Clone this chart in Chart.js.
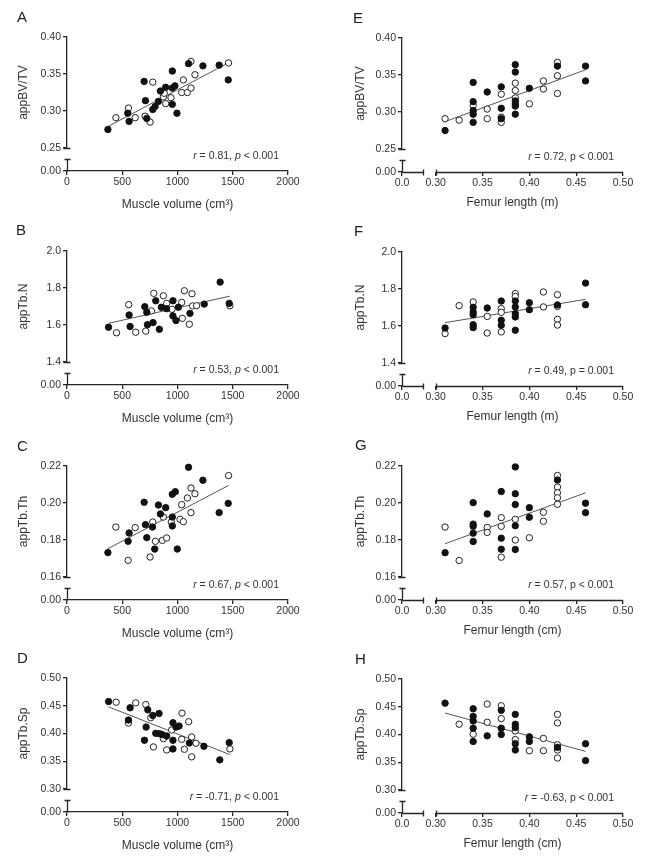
<!DOCTYPE html>
<html>
<head>
<meta charset="utf-8">
<script src="https://cdn.jsdelivr.net/npm/chart.js@4.4.1/dist/chart.umd.min.js"></script>
<style>
  html, body { margin: 0; padding: 0; background: #fff; }
  #page { position: relative; width: 645px; height: 863px; overflow: hidden; }
  canvas { position: absolute; }
  .letter { position: absolute; font: 15px/15px "Liberation Sans", Arial, sans-serif; color: #222; }
</style>
</head>
<body>
<div id="page">
  <canvas id="chartA" width="320" height="213" style="left:0;top:0"></canvas>
  <canvas id="chartB" width="320" height="213" style="left:0;top:214px"></canvas>
  <canvas id="chartC" width="320" height="213" style="left:0;top:429px"></canvas>
  <canvas id="chartD" width="320" height="213" style="left:0;top:641px"></canvas>
  <canvas id="chartE" width="325" height="213" style="left:320px;top:1px"></canvas>
  <canvas id="chartF" width="325" height="213" style="left:320px;top:215px"></canvas>
  <canvas id="chartG" width="325" height="213" style="left:320px;top:429px"></canvas>
  <canvas id="chartH" width="325" height="213" style="left:320px;top:642px"></canvas>

  <div class="letter" style="left:17px;top:9px">A</div>
  <div class="letter" style="left:16px;top:222px">B</div>
  <div class="letter" style="left:17px;top:438px">C</div>
  <div class="letter" style="left:17px;top:650px">D</div>
  <div class="letter" style="left:353px;top:10px">E</div>
  <div class="letter" style="left:354px;top:223px">F</div>
  <div class="letter" style="left:355px;top:437px">G</div>
  <div class="letter" style="left:355px;top:651px">H</div>
</div>
<script>
// ---------- axis ticks ----------
const muscleTicks = [0, 500, 1000, 1500, 2000];
const femurTicks = [0.30, 0.35, 0.40, 0.45, 0.50];
const femurAxisStart = 0.264; // where the "0.0" stub of the broken femur axis sits
const bvTicks = [0.25, 0.30, 0.35, 0.40];
const tbnTicks = [1.4, 1.6, 1.8, 2.0];
const tbthTicks = [0.16, 0.18, 0.20, 0.22];
const tbspTicks = [0.30, 0.35, 0.40, 0.45, 0.50];

// ---------- A: appBV/TV vs muscle volume ----------
const aFilledX = [370, 550, 562, 698, 710, 722, 776, 797, 827, 845, 893, 953, 953, 953, 977, 995, 1100, 1230, 1377, 1459];
const aFilledY = [0.275, 0.297, 0.286, 0.340, 0.314, 0.290, 0.302, 0.306, 0.313, 0.327, 0.332, 0.354, 0.331, 0.309, 0.334, 0.297, 0.364, 0.361, 0.362, 0.342];
const aOpenX = [442, 556, 617, 707, 752, 776, 872, 880, 893, 941, 1038, 1053, 1089, 1122, 1122, 1158, 1462];
const aOpenY = [0.291, 0.304, 0.291, 0.293, 0.285, 0.339, 0.319, 0.324, 0.310, 0.318, 0.325, 0.342, 0.325, 0.331, 0.367, 0.349, 0.365];
const aFitX = [370, 1460];
const aFitY = [0.279, 0.365];

// ---------- B: appTb.N vs muscle volume ----------
const bFilledX = [376, 562, 571, 704, 722, 728, 779, 803, 836, 854, 902, 959, 959, 986, 1008, 1113, 1242, 1386, 1468];
const bFilledY = [1.588, 1.654, 1.592, 1.699, 1.669, 1.602, 1.613, 1.731, 1.577, 1.696, 1.688, 1.731, 1.649, 1.624, 1.696, 1.663, 1.713, 1.832, 1.717];
const bOpenX = [448, 559, 622, 713, 764, 785, 872, 902, 950, 1038, 1044, 1062, 1107, 1131, 1137, 1173, 1474];
const bOpenY = [1.558, 1.710, 1.561, 1.567, 1.676, 1.771, 1.758, 1.717, 1.685, 1.722, 1.636, 1.785, 1.604, 1.769, 1.703, 1.704, 1.704];
const bFitX = [376, 1474];
const bFitY = [1.609, 1.756];

// ---------- C: appTb.Th vs muscle volume ----------
const cFilledX = [370, 553, 562, 698, 710, 722, 773, 794, 827, 845, 893, 953, 953, 953, 980, 998, 1100, 1230, 1377, 1459];
const cFilledY = [0.1732, 0.1793, 0.1838, 0.2004, 0.1883, 0.1813, 0.1870, 0.1751, 0.1989, 0.1941, 0.1975, 0.1924, 0.2047, 0.1876, 0.2061, 0.1751, 0.2193, 0.2123, 0.1948, 0.1998];
const cOpenX = [442, 553, 617, 752, 776, 800, 863, 872, 902, 944, 1023, 1038, 1053, 1089, 1122, 1122, 1158, 1462];
const cOpenY = [0.1870, 0.1690, 0.1867, 0.1708, 0.1897, 0.1793, 0.1798, 0.1924, 0.1811, 0.1897, 0.1912, 0.1991, 0.1899, 0.2027, 0.2081, 0.1948, 0.2050, 0.2148];
const cFitX = [370, 1462];
const cFitY = [0.1753, 0.2095];

// ---------- D: appTb.Sp vs muscle volume ----------
const dFilledX = [376, 556, 571, 701, 716, 731, 776, 803, 833, 836, 863, 902, 959, 959, 959, 986, 1014, 1107, 1239, 1383, 1468];
const dFilledY = [0.4576, 0.4242, 0.4463, 0.3878, 0.4116, 0.4427, 0.4325, 0.4003, 0.4361, 0.3997, 0.3979, 0.3955, 0.4194, 0.3878, 0.3722, 0.4116, 0.4134, 0.3830, 0.3770, 0.3525, 0.3836];
const dOpenX = [445, 556, 622, 713, 758, 782, 872, 902, 947, 1038, 1041, 1062, 1101, 1128, 1128, 1167, 1474];
const dOpenY = [0.4564, 0.4188, 0.4552, 0.4522, 0.4284, 0.3758, 0.3907, 0.3704, 0.4063, 0.3896, 0.4367, 0.3716, 0.4212, 0.3937, 0.3579, 0.3824, 0.3722];
const dFitX = [376, 1474];
const dFitY = [0.448, 0.362];

// ---------- femur length groups (F-H share the same lengths) ----------
const femurFilledX = [0.31, 0.34, 0.34, 0.34, 0.34, 0.34, 0.355, 0.37, 0.37, 0.37, 0.385, 0.385, 0.385, 0.385, 0.385, 0.40, 0.40, 0.43, 0.46, 0.46];

// E: appBV/TV vs femur length
const eFilledX = [0.31, 0.34, 0.34, 0.34, 0.34, 0.34, 0.355, 0.37, 0.37, 0.37, 0.385, 0.385, 0.385, 0.385, 0.385, 0.385, 0.40, 0.43, 0.46, 0.46];
const eFilledY = [0.275, 0.340, 0.314, 0.302, 0.297, 0.286, 0.327, 0.334, 0.305, 0.291, 0.364, 0.354, 0.315, 0.311, 0.308, 0.297, 0.332, 0.362, 0.362, 0.342];
const eOpenX = [0.31, 0.325, 0.34, 0.355, 0.355, 0.37, 0.37, 0.37, 0.385, 0.385, 0.385, 0.40, 0.415, 0.415, 0.43, 0.43, 0.43];
const eOpenY = [0.291, 0.289, 0.309, 0.304, 0.291, 0.324, 0.293, 0.286, 0.339, 0.329, 0.319, 0.311, 0.342, 0.331, 0.367, 0.349, 0.325];
const eFitX = [0.31, 0.46];
const eFitY = [0.287, 0.357];

// F: appTb.N vs femur length
const fFilledY = [1.589, 1.701, 1.676, 1.661, 1.607, 1.591, 1.697, 1.735, 1.631, 1.604, 1.735, 1.703, 1.667, 1.649, 1.577, 1.726, 1.688, 1.714, 1.832, 1.715];
const fOpenX = [0.31, 0.325, 0.34, 0.355, 0.355, 0.37, 0.37, 0.37, 0.385, 0.385, 0.415, 0.415, 0.43, 0.43, 0.43, 0.43];
const fOpenY = [1.559, 1.710, 1.730, 1.652, 1.562, 1.694, 1.674, 1.568, 1.775, 1.760, 1.784, 1.703, 1.769, 1.706, 1.636, 1.605];
const fFitX = [0.31, 0.46];
const fFitY = [1.618, 1.744];

// G: appTb.Th vs femur length
const gFilledY = [0.1731, 0.2002, 0.1886, 0.1874, 0.1837, 0.1792, 0.1941, 0.2062, 0.1810, 0.1750, 0.2195, 0.2050, 0.1992, 0.1877, 0.1749, 0.1975, 0.1923, 0.2124, 0.1999, 0.1948];
const gOpenX = [0.31, 0.325, 0.355, 0.355, 0.37, 0.37, 0.37, 0.385, 0.385, 0.40, 0.415, 0.415, 0.43, 0.43, 0.43, 0.43, 0.43];
const gOpenY = [0.1870, 0.1689, 0.1868, 0.1841, 0.1921, 0.1874, 0.1707, 0.1912, 0.1800, 0.1812, 0.1950, 0.1901, 0.2149, 0.2086, 0.2055, 0.2028, 0.1993];
const gFitX = [0.31, 0.46];
const gFitY = [0.178, 0.2055];

// H: appTb.Sp vs femur length
const hFilledY = [0.4565, 0.4464, 0.4327, 0.4244, 0.4113, 0.3875, 0.3976, 0.4435, 0.4113, 0.4000, 0.4363, 0.4185, 0.4125, 0.3833, 0.3720, 0.3958, 0.3875, 0.3768, 0.3833, 0.3530];
const hOpenX = [0.325, 0.34, 0.355, 0.355, 0.37, 0.37, 0.385, 0.385, 0.40, 0.415, 0.415, 0.43, 0.43, 0.43, 0.43, 0.43];
const hOpenY = [0.4185, 0.4006, 0.4548, 0.4220, 0.4518, 0.4286, 0.4065, 0.3910, 0.3708, 0.3929, 0.3708, 0.4363, 0.4208, 0.3815, 0.3720, 0.3577];
const hFitX = [0.31, 0.46];
const hFitY = [0.4387, 0.3696];

// ---------- drawing ----------
const AXIS = '#262626';
const AXIS_W = 1.3;
const FONT = '"Liberation Sans", Arial, sans-serif';
Chart.defaults.font.family = FONT;
Chart.defaults.color = '#333';

const toPoints = (xs, ys) => xs.map((x, i) => ({ x, y: ys[i] }));

/**
 * Draw the pieces of the broken axes: the cap under the main y axis, the short
 * 0.00 stub below the break and, for the femur panels, the split x axis.
 */
const axisBreaks = {
  id: 'axisBreaks',
  afterDraw(chart, args, opts) {
    const { ctx, chartArea, scales } = chart;
    const ax = Math.round(chartArea.left) + 0.5;
    const base = Math.round(chartArea.bottom) + 0.5;
    const mainBottom = Math.round(scales.y.bottom) + 0.5;
    ctx.save();
    ctx.strokeStyle = AXIS;
    ctx.lineWidth = AXIS_W;
    ctx.beginPath();
    ctx.moveTo(ax - 4, mainBottom); ctx.lineTo(ax + 3, mainBottom);
    ctx.moveTo(ax, base - 12); ctx.lineTo(ax, base);
    ctx.moveTo(ax - 3, base - 12); ctx.lineTo(ax + 3, base - 12);
    if (opts.xBreak) {
      const cut = ax + 21;
      const resume = Math.round(scales.x.getPixelForValue(opts.xBreak)) + 0.5;
      ctx.moveTo(ax, base); ctx.lineTo(cut, base);
      ctx.moveTo(cut, base - 3); ctx.lineTo(cut, base + 3);
      ctx.moveTo(resume, base - 3); ctx.lineTo(resume, base + 3);
      ctx.moveTo(resume, base); ctx.lineTo(chartArea.right, base);
    }
    ctx.stroke();
    ctx.restore();
  },
};

/**
 * Write the "r = ..., p ..." note in the lower right of the plot, with italic parts.
 */
const cornerNote = {
  id: 'cornerNote',
  afterDraw(chart, args, opts) {
    if (!opts.parts) return;
    const { ctx, chartArea } = chart;
    const fonts = opts.parts.map(([, it]) => `${it ? 'italic ' : ''}10.5px ${FONT}`);
    ctx.save();
    ctx.fillStyle = '#333';
    ctx.textBaseline = 'middle';
    let w = 0;
    opts.parts.forEach(([t], i) => { ctx.font = fonts[i]; w += ctx.measureText(t).width; });
    let x = chartArea.right - 9 - w;
    const y = chartArea.bottom - 15;
    opts.parts.forEach(([t], i) => {
      ctx.font = fonts[i];
      ctx.fillText(t, x, y);
      x += ctx.measureText(t).width;
    });
    ctx.restore();
  },
};

const tickGrid = { display: true, drawOnChartArea: false, drawTicks: true, tickLength: 4, color: AXIS, lineWidth: AXIS_W };

function makePanel(id, p) {
  const yWidth = p.femur ? 82 : 67;
  const xScale = p.femur ? {
    type: 'linear', position: 'bottom', bounds: 'data',
    min: femurAxisStart, max: femurTicks[femurTicks.length - 1],
    afterBuildTicks: s => { s.ticks = [femurAxisStart, ...femurTicks].map(v => ({ value: v })); },
    afterFit: s => { s.height = 42; },
    ticks: { autoSkip: false, maxRotation: 0, padding: 1, font: { size: 10.5 },
      callback: v => (v < 0.29 ? '0.0' : v.toFixed(2)) },
    grid: tickGrid,
    border: { display: false },
    title: { display: true, text: p.xTitle, font: { size: 12 }, padding: { top: 0, bottom: 4 } },
  } : {
    type: 'linear', position: 'bottom', bounds: 'data',
    min: muscleTicks[0], max: muscleTicks[muscleTicks.length - 1],
    afterBuildTicks: s => { s.ticks = muscleTicks.map(v => ({ value: v })); },
    afterFit: s => { s.height = 42; },
    ticks: { autoSkip: false, maxRotation: 0, padding: 1, font: { size: 10.5 }, callback: v => String(v) },
    grid: tickGrid,
    border: { display: true, color: AXIS, width: AXIS_W },
    title: { display: true, text: 'Muscle volume (cm³)', font: { size: 12 }, padding: { top: 0, bottom: 1 } },
  };

  const onMain = { xAxisID: 'x', yAxisID: 'y', clip: false };

  new Chart(document.getElementById(id), {
    type: 'scatter',
    data: {
      datasets: [
        { ...onMain, data: toPoints(p.filledX, p.filledY), backgroundColor: '#111', borderColor: '#111',
          borderWidth: 1, pointRadius: 3.2 },
        { ...onMain, data: toPoints(p.openX, p.openY), backgroundColor: '#fff', borderColor: '#222',
          borderWidth: 1, pointRadius: 3.2 },
        { ...onMain, data: toPoints(p.fitX, p.fitY), showLine: true, borderColor: '#555', borderWidth: 1,
          pointRadius: 0 },
      ],
    },
    options: {
      responsive: false,
      animation: false,
      layout: { padding: { left: 0, right: p.femur ? 22 : 32, top: 37, bottom: 0 } },
      plugins: {
        legend: { display: false },
        tooltip: { enabled: false },
        axisBreaks: { xBreak: p.femur ? femurTicks[0] : null },
        cornerNote: { parts: p.note },
      },
      scales: {
        x: xScale,
        y0: {
          type: 'linear', position: 'left', stack: 'v', stackWeight: 23, bounds: 'data',
          min: 0, max: 1,
          afterBuildTicks: s => { s.ticks = [{ value: 0 }]; },
          afterFit: s => { s.width = yWidth; },
          ticks: { padding: 2, font: { size: 10.5 }, callback: () => '0.00' },
          grid: tickGrid,
          border: { display: false },
        },
        y: {
          type: 'linear', position: 'left', stack: 'v', stackWeight: 111, bounds: 'data',
          min: p.yTicks[0], max: p.yTicks[p.yTicks.length - 1],
          afterBuildTicks: s => { s.ticks = p.yTicks.map(v => ({ value: v })); },
          afterFit: s => { s.width = yWidth; },
          ticks: { padding: 2, font: { size: 10.5 }, callback: v => v.toFixed(p.yDigits) },
          grid: tickGrid,
          border: { display: true, color: AXIS, width: AXIS_W },
          title: { display: true, text: p.yTitle, font: { size: 12 },
            padding: { top: p.femur ? 33 : 16, bottom: 0 } },
        },
      },
    },
    plugins: [axisBreaks, cornerNote],
  });
}

makePanel('chartA', { filledX: aFilledX, filledY: aFilledY, openX: aOpenX, openY: aOpenY, fitX: aFitX, fitY: aFitY,
  yTicks: bvTicks, yDigits: 2, yTitle: 'appBV/TV',
  note: [['r', true], [' = 0.81, ', false], ['p', true], [' < 0.001', false]] });
makePanel('chartB', { filledX: bFilledX, filledY: bFilledY, openX: bOpenX, openY: bOpenY, fitX: bFitX, fitY: bFitY,
  yTicks: tbnTicks, yDigits: 1, yTitle: 'appTb.N',
  note: [['r', true], [' = 0.53, ', false], ['p', true], [' < 0.001', false]] });
makePanel('chartC', { filledX: cFilledX, filledY: cFilledY, openX: cOpenX, openY: cOpenY, fitX: cFitX, fitY: cFitY,
  yTicks: tbthTicks, yDigits: 2, yTitle: 'appTb.Th',
  note: [['r', true], [' = 0.67, ', false], ['p', true], [' < 0.001', false]] });
makePanel('chartD', { filledX: dFilledX, filledY: dFilledY, openX: dOpenX, openY: dOpenY, fitX: dFitX, fitY: dFitY,
  yTicks: tbspTicks, yDigits: 2, yTitle: 'appTb.Sp',
  note: [['r', true], [' = -0.71, ', false], ['p', true], [' < 0.001', false]] });

makePanel('chartE', { femur: true, xTitle: 'Femur length (m)',
  filledX: eFilledX, filledY: eFilledY, openX: eOpenX, openY: eOpenY, fitX: eFitX, fitY: eFitY,
  yTicks: bvTicks, yDigits: 2, yTitle: 'appBV/TV',
  note: [['r', true], [' = 0.72, p < 0.001', false]] });
makePanel('chartF', { femur: true, xTitle: 'Femur length (m)',
  filledX: femurFilledX, filledY: fFilledY, openX: fOpenX, openY: fOpenY, fitX: fFitX, fitY: fFitY,
  yTicks: tbnTicks, yDigits: 1, yTitle: 'appTb.N',
  note: [['r', true], [' = 0.49, p = 0.001', false]] });
makePanel('chartG', { femur: true, xTitle: 'Femur length (cm)',
  filledX: femurFilledX, filledY: gFilledY, openX: gOpenX, openY: gOpenY, fitX: gFitX, fitY: gFitY,
  yTicks: tbthTicks, yDigits: 2, yTitle: 'appTb.Th',
  note: [['r', true], [' = 0.57, p < 0.001', false]] });
makePanel('chartH', { femur: true, xTitle: 'Femur length (cm)',
  filledX: femurFilledX, filledY: hFilledY, openX: hOpenX, openY: hOpenY, fitX: hFitX, fitY: hFitY,
  yTicks: tbspTicks, yDigits: 2, yTitle: 'appTb.Sp',
  note: [['r', true], [' = -0.63, p < 0.001', false]] });
</script>
</body>
</html>
